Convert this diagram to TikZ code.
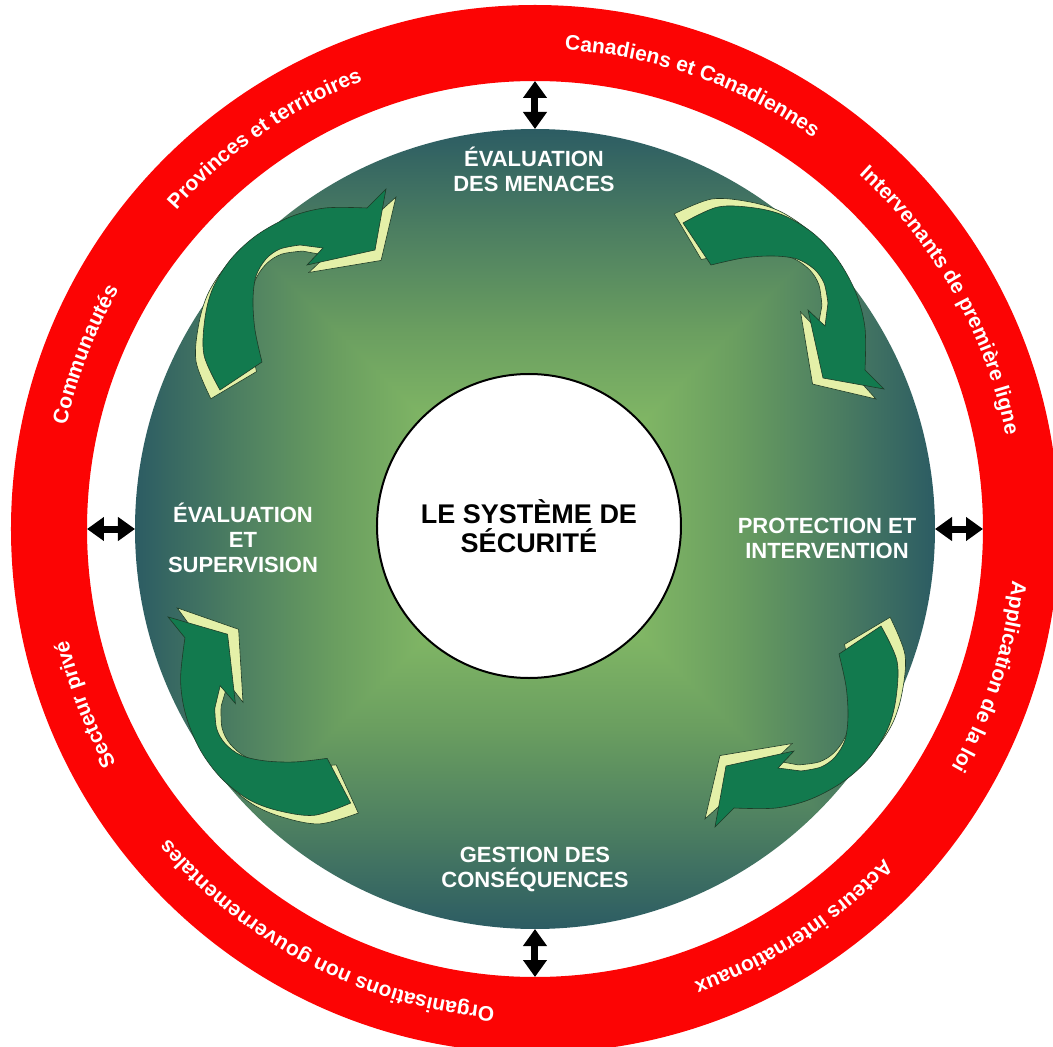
\documentclass[tikz,border=0pt]{standalone}
\usepackage{fontspec}
\setmainfont{Liberation Sans}
\usetikzlibrary{arrows.meta,decorations.text}

\definecolor{ringred}{RGB}{252,4,4}
\definecolor{arrowgreen}{RGB}{18,122,78}
\definecolor{arrowlight}{RGB}{228,240,168}
\definecolor{arrowline}{RGB}{30,60,40}
\definecolor{dl}{RGB}{140,196,106}
\definecolor{dq}{RGB}{130,184,101}
\definecolor{dm}{RGB}{106,158,96}
\definecolor{dt}{RGB}{76,126,97}
\definecolor{de}{RGB}{44,92,99}

% square gradient of the disk: light in the middle, dark teal at the rim
\pgfdeclareverticalshading{boxgrad}{100bp}{color(0bp)=(dl); color(25bp)=(dl); color(37.5bp)=(dq); color(50bp)=(dm); color(62.5bp)=(dt); color(75bp)=(de); color(100bp)=(de)}

\newcommand{\ringfont}{\fontsize{21bp}{21bp}\selectfont\bfseries}
\newcommand{\labelfont}{\fontsize{22bp}{25bp}\selectfont\bfseries}

% outline of one curved cycle arrow, around its own centre
\newcommand{\arrowpath}{plot[smooth, tension=0.55] coordinates {(-75,-100) (-91,-65) (-90,-28) (-82,2) (-64,31) (-38,55) (-5,73) (30,82) (72,82)} -- (91,101) -- (80,40) -- (12,25) -- (28,42) -- plot[smooth, tension=0.55] coordinates {(5,45) (-15,41) (-29,31) (-39,14) (-42,-10) (-40,-40) (-33,-72)} -- cycle}

\tikzset{
  cyclearrow/.pic={
    \fill[arrowlight, draw=arrowline, line width=0.6bp, shift={(0,-8)}, rotate=-3, scale=1.05] \arrowpath;
    \fill[arrowgreen, draw=arrowline, line width=0.6bp] \arrowpath;
  },
  ringlabel/.style={decorate, decoration={text along path, text align=center, text color=white, text={|\ringfont|#1}}},
  phase/.style={text=white, font=\labelfont, align=center, anchor=base, inner sep=0pt},
  link/.style={line width=7bp, {Triangle[width=23bp,length=17bp]}-{Triangle[width=23bp,length=17bp]}},
}

\begin{document}
\begin{tikzpicture}[x=1bp, y=1bp]
\useasboundingbox (-535,-518) rectangle (518,529);
\clip (-535,-518) rectangle (518,529);
\fill[white] (-535,-518) rectangle (518,529);

% red ring of partners
\fill[ringred, even odd rule] (0,0) circle[radius=524] (0,0) circle[radius=448];

% shaded disk
\begin{scope}
  \clip (0,0) circle[radius=400];
  \shade[shading=boxgrad] (-401,400) -- (401,400) -- (0,-1) -- cycle;
  \shade[shading=boxgrad, shading angle=180] (-401,-400) -- (401,-400) -- (0,1) -- cycle;
  \shade[shading=boxgrad, shading angle=90] (-400,-401) -- (-400,401) -- (1,0) -- cycle;
  \shade[shading=boxgrad, shading angle=-90] (400,-401) -- (400,401) -- (-1,0) -- cycle;
\end{scope}

\node[circle, minimum size=800bp, inner sep=0pt, outer sep=0pt] (disk) at (0,0) {};
\node[circle, minimum size=896bp, inner sep=0pt, outer sep=0pt] (ringin) at (0,0) {};

% cycle arrows
\pic (arrowTL) at (-240,239) {cyclearrow};
\pic[rotate=-90] (arrowTR) at (248,231) {cyclearrow};
\pic[rotate=180] (arrowBR) at (271,-197) {cyclearrow};
\pic[rotate=84] (arrowBL) at (-276,-189) {cyclearrow};

% centre
\node[circle, draw=black, line width=2bp, fill=white, minimum size=304bp, inner sep=0pt, align=center, font=\fontsize{27bp}{29bp}\selectfont\bfseries] (core) at (-6,3) {LE SYSTÈME DE\\SÉCURITÉ};

% phases (anchored on the baseline of their last line)
\node[phase] (threat) at (-1,337) {ÉVALUATION\\DES MENACES};
\node[phase] (review) at (-292,-43) {ÉVALUATION\\ET\\SUPERVISION};
\node[phase] (protect) at (292,-29) {PROTECTION ET\\INTERVENTION};
\node[phase] (conseq) at (0,-358) {GESTION DES\\CONSÉQUENCES};

% links between disk and ring
\draw[link] (disk.north) -- (ringin.north);
\draw[link] (disk.south) -- (ringin.south);
\draw[link] (disk.west) -- (ringin.west);
\draw[link] (disk.east) -- (ringin.east);

% partner names along the ring, clockwise
\path[ringlabel={Canadiens et Canadiennes}] (100.5:480) arc[start angle=100.5, end angle=40.5, radius=480];
\path[ringlabel={Intervenants de première ligne}] (59.4:480) arc[start angle=59.4, end angle=-0.6, radius=480];
\path[ringlabel={Application de la loi}] (12:480) arc[start angle=12, end angle=-48, radius=480];
\path[ringlabel={Acteurs internationaux}] (-27:480) arc[start angle=-27, end angle=-87, radius=480];
\path[ringlabel={Organisations non gouvernementales}] (-87.3:480) arc[start angle=-87.3, end angle=-147.3, radius=480];
\path[ringlabel={Secteur privé}] (231.3:480) arc[start angle=231.3, end angle=171.3, radius=480];
\path[ringlabel={Communautés}] (188.8:480) arc[start angle=188.8, end angle=128.8, radius=480];
\path[ringlabel={Provinces et territoires}] (154.7:480) arc[start angle=154.7, end angle=94.7, radius=480];
\end{tikzpicture}
\end{document}
